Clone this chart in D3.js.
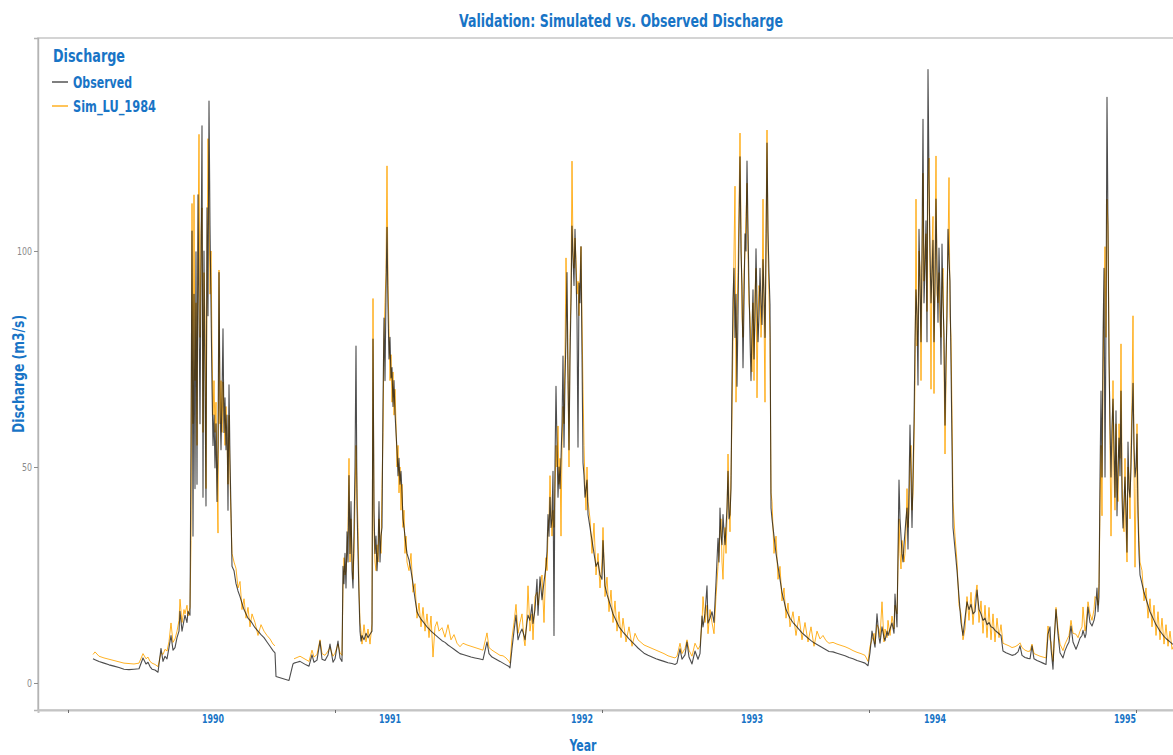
<!DOCTYPE html>
<html>
<head>
<meta charset="utf-8">
<script src="https://cdn.jsdelivr.net/npm/d3@7"></script>
<style>
  body { margin: 0; background: #fff; }
  svg text { font-family: "Liberation Sans Narrow", "DejaVu Sans Condensed", "Arial Narrow", sans-serif; }
</style>
</head>
<body>
<div id="chart"></div>
<script>
// day offsets are counted from the first record, 1 Nov 1989
const startDate = Date.UTC(1989, 10, 1);

const day = [
  // 1989-90
  0, 4, 12, 22, 32, 42, 52, 62, 72, 82, 92, 100, 106, 110, 114, 118, 124, 130, 136, 140,
  144, 148, 152, 156, 160, 164, 168, 172, 174, 178, 182, 184, 188, 190, 194,
  196, 198, 200, 202, 204, 206, 208, 210, 212, 214, 216, 218, 220, 222, 224, 226, 228, 230, 232, 234,
  236, 238, 240, 242, 244, 246, 248, 250, 252, 254, 256, 258, 260, 262, 264, 266, 268, 270, 272, 274,
  276, 278,
  282, 286, 290, 294, 298, 302, 306, 310, 314, 318, 324, 330, 336, 342, 348, 354, 360, 364,
  // 1990-91
  366, 392, 400, 402, 408, 414, 420, 426, 432, 438, 442, 448, 454, 458, 464, 470, 474, 480, 484, 490,
  494, 498,
  500, 502, 504, 506, 508, 510, 512, 514, 516, 518, 520, 522, 524, 526, 528, 530, 532, 534, 536, 538,
  542, 546, 550, 554, 558,
  560, 562, 564, 566, 568, 570, 572, 574, 576, 578, 580, 582, 584, 586, 588, 590, 592, 594, 596, 598,
  600, 602, 604, 606, 608, 610, 612, 614, 616, 618, 620, 622, 624, 626, 628,
  632, 636, 640, 644, 648, 652, 656, 660, 664, 668, 672, 676, 680, 684, 688, 692,
  698, 704, 710, 716, 722, 728, 734,
  // 1991-92
  740, 748, 756, 764, 772, 780,
  788, 792, 798, 806, 814, 820, 826, 832, 834,
  838, 842, 846, 850, 854, 858, 862, 864, 868, 870, 874, 878, 880, 884, 888, 890, 894, 898, 902, 906,
  908,
  910, 912, 914, 916, 918, 920, 922, 924, 926, 928, 930, 932, 934, 936, 938, 940, 942, 944, 946, 948,
  950, 952, 954, 956, 958, 960, 962, 964, 966, 968, 970, 972, 974, 976, 978, 980, 982, 984, 986, 988,
  990,
  994, 998, 1002, 1006, 1010, 1014, 1018, 1020,
  1024, 1028, 1032, 1036, 1040, 1044, 1048, 1052, 1056, 1060,
  1066, 1072, 1078, 1084, 1090, 1096, 1102,
  // 1992-93
  1110, 1118, 1126, 1134, 1142, 1150, 1158,
  1164, 1168, 1174, 1178, 1184, 1188, 1192, 1198, 1204, 1210, 1214,
  1218, 1220, 1224, 1228, 1230, 1234, 1238, 1242, 1246,
  1250, 1252, 1254, 1256, 1258, 1260, 1262, 1264, 1266, 1268, 1270, 1272, 1274, 1276, 1278, 1280,
  1282, 1284, 1286, 1288, 1290, 1292, 1294, 1296, 1298, 1300, 1302, 1304, 1306, 1308, 1310, 1312,
  1314, 1316, 1318, 1320, 1322, 1324, 1326, 1328, 1330, 1332, 1334, 1336, 1338, 1340, 1342, 1344,
  1346, 1348, 1350, 1352, 1354, 1356, 1358,
  1362, 1366, 1370, 1374, 1378, 1382, 1386,
  1390, 1394,
  1400, 1406, 1412, 1418, 1424, 1430, 1436, 1442, 1448, 1454, 1460, 1466, 1472,
  // 1993-94
  1480, 1488, 1496, 1504, 1512, 1520, 1528, 1536, 1544,
  1550, 1554, 1558, 1562, 1564, 1568, 1572, 1574, 1578, 1582, 1584, 1588, 1590, 1594, 1598, 1602,
  1604, 1608,
  1612, 1614, 1616, 1618, 1620, 1622, 1624, 1626, 1628, 1630, 1632, 1634, 1636, 1638, 1640, 1642,
  1644, 1646, 1648, 1650, 1652, 1654, 1656, 1658, 1660, 1662, 1664, 1666, 1668, 1670, 1672, 1674,
  1676, 1678, 1680, 1682, 1684, 1686, 1688, 1690, 1692, 1694, 1696, 1698, 1700, 1702, 1704, 1706,
  1708, 1710, 1712, 1714, 1716, 1718, 1720,
  1724, 1728, 1732, 1736, 1740,
  1744, 1748, 1752, 1756, 1760, 1764, 1768, 1772, 1776, 1780, 1784, 1788, 1792, 1796, 1800, 1804,
  1808, 1812, 1816,
  1820, 1826, 1832, 1838, 1844,
  // 1994-95
  1850, 1854, 1858, 1864, 1870, 1874, 1878, 1882, 1888, 1894, 1900, 1906,
  1910, 1914, 1916, 1920, 1922, 1926, 1930, 1934, 1940, 1944, 1948, 1952, 1956, 1960, 1966, 1970,
  1974, 1978, 1980, 1984, 1986, 1990, 1994, 1998, 2002, 2004, 2008, 2010, 2012,
  2014, 2016, 2018, 2020, 2022, 2024, 2026, 2028, 2030, 2032, 2034, 2036, 2038, 2040, 2042, 2044,
  2046, 2048, 2050, 2052, 2054, 2056, 2058, 2060, 2062, 2064, 2066, 2068, 2070, 2072, 2074, 2076,
  2078, 2080, 2082, 2084, 2086, 2088, 2090, 2092, 2094,
  2098, 2102, 2106, 2110, 2114, 2118, 2122, 2126, 2130, 2134, 2138, 2142, 2146, 2150, 2154, 2158,
  2166
];

const observed = [
  // 1989-90
  5.6, 5.4, 5.0, 4.6, 4.2, 3.9, 3.6, 3.2, 3.1, 3.2, 3.3, 5.8, 4.4, 4.8, 3.8, 3.2, 3.0, 2.5, 8.0, 5.0,
  6.2, 5.6, 8.2, 11.0, 7.6, 8.2, 10.5, 12.0, 16.6, 12.0, 14.5, 15.7, 14.0, 16.6, 15.7,
  56, 104.6, 34, 90, 45, 99.8, 46, 113, 87.5, 60, 95, 129, 43, 100, 70, 41, 110, 85, 134.7, 106,
  87.5, 68.7, 55, 62, 49.8, 60, 42, 55, 95, 64, 54, 66, 82, 58, 66, 54, 62, 40, 69, 52,
  40, 27,
  26, 23, 21.3, 20, 18.5, 17, 16, 15, 14.5, 13.9, 12.8, 12, 11.2, 10.5, 9.5, 8.5, 7.5, 7.0,
  // 1990-91
  1.5, 0.6, 4.4, 4.6, 4.8, 5.0, 4.6, 4.2, 3.9, 6.5, 4.8, 5.3, 9.7, 5.5, 5.2, 6.5, 9.0, 4.8, 5.6, 9.7,
  5.8, 5.0,
  27, 23, 30, 22, 35, 28, 48, 30, 42, 26, 22, 35, 50, 78, 41, 30, 20, 12, 9.7, 11,
  10, 11.5, 10.5, 11.3, 12,
  79.6, 40, 30, 34, 26, 30, 42, 28, 34, 36, 65, 84.5, 70, 90, 105.5, 87, 75, 80, 70.6, 73,
  64, 70, 62.5, 58, 54, 48, 52, 46, 49, 44, 38, 36, 34, 31.7, 30,
  28.5, 26, 23, 19.5, 16.5, 15.5, 14.8, 14.2, 13.6, 13, 12.5, 12, 11.6, 11.2, 10.8, 10.4,
  9.8, 9.4, 8.8, 8.3, 7.8, 7.3, 6.8,
  // 1991-92
  6.6, 6.3, 6.0, 5.8, 5.6, 5.4,
  9.5, 6.8, 6.0, 5.5, 5.0, 4.6, 4.2, 3.8, 3.5,
  8.0, 12.0, 15.7, 10.0, 11.5, 12.5, 11.0, 10.0, 14.0, 15.7, 14.5, 18.2, 13.8, 17.0, 24.0, 15.7, 24.6, 19.3, 23.4, 27.0,
  30.5,
  39, 34, 43, 36, 38, 49, 11, 51, 68.7, 55, 43, 50, 45, 52, 60, 75.7, 54.6, 70, 80, 95,
  72, 54, 75, 88, 105.8, 98.4, 92, 105, 95, 84, 54.6, 92.6, 88, 101, 76, 51, 48, 43, 45, 47,
  39,
  36, 33, 30, 27, 28, 25, 24, 33,
  22.5, 20.5, 19, 17.5, 16, 15, 14, 13, 12.4, 11.8,
  11, 10.2, 9.5, 8.8, 8.1, 7.5, 6.9,
  // 1992-93
  6.4, 6.0, 5.6, 5.3, 5.0, 4.7, 4.5,
  4.3, 4.6, 7.9, 5.5, 6.5, 9.5, 6.0, 4.4, 7.4, 5.5, 6.8,
  15.5, 13, 16, 22.5, 13.9, 15, 16.5, 14, 23.4,
  33.5, 28, 40.5, 34, 32, 39, 35, 32, 36, 40.5, 49, 38, 39, 45, 70, 89,
  96, 80, 90, 68.7, 85, 104.6, 121.8, 100, 92, 73, 88, 104, 100, 120.8, 105, 92,
  80, 70, 82, 91, 75, 85, 100.5, 88, 79, 85, 96, 88, 83, 98, 90, 80,
  100, 125, 104.6, 95, 87.5, 40.5, 38,
  34, 30, 27, 24, 21, 19, 17,
  16, 15,
  14, 13.2, 12.4, 11.6, 11, 10.4, 9.8, 9.3, 8.9, 8.5, 8.1, 7.7, 7.3,
  // 1993-94
  7.2, 6.9, 6.6, 6.3, 5.9, 5.6, 5.2, 4.9, 4.6,
  4.0, 7.0, 12, 9.5, 8.3, 16, 10.5, 9.2, 13, 10.5, 9.8, 12, 11, 12.5, 13.9, 11.5,
  20.6, 13,
  47, 38, 34, 30, 28, 32, 35, 38, 40.5, 31, 45, 59.7, 48, 36, 48, 60,
  79, 91, 85, 69, 105, 92, 79, 100, 130.5, 88, 96, 107, 79, 142, 117, 100,
  88, 95, 102.5, 79, 92, 112, 96, 83.5, 100.7, 90, 73.8, 101.6, 88, 80.5, 59.7, 75,
  85, 105, 98, 93, 74, 55, 36,
  31, 26, 20, 14, 11,
  15, 18.8, 17, 18.2, 16, 16.5, 21.5, 17, 16, 14.5, 15, 13.5, 14, 13, 12.8, 12.2,
  11.8, 11.4, 11,
  7.4, 7.0, 6.7, 6.4, 6.6,
  // 1994-95
  7.2, 8.6, 6.4, 5.9, 5.7, 5.6, 8.6, 5.6, 5.2, 4.9, 4.6, 4.3,
  11.3, 13, 8, 3.2, 9.5, 17, 11.3, 7, 5.8, 7.5, 8.6, 9.5, 13.2, 9.5, 7.8, 9,
  10.4, 11, 12.2, 10.5, 11.3, 17.6, 14, 13.2, 14.5, 15.7, 22, 16.5, 20,
  47.7, 67.6, 47.7, 79.4, 96, 47.7, 84, 135.6, 105, 74.8, 60, 47.7, 59.5, 65.7, 55, 43,
  63, 38.7, 50, 56.7, 48, 67.6, 43, 35.9, 42, 47.7, 40, 30.3, 55.8, 45, 43, 50,
  60.4, 69.4, 55, 47.7, 50, 57.6, 38.7, 30, 25,
  23, 21, 19.5, 18, 16.5, 15.5, 14.5, 13.5, 12.8, 12, 11.4, 10.8, 10.3, 9.9, 9.5, 9.1,
  8.6
];

const simulated = [
  // 1989-90
  6.6, 7.2, 6.2, 5.8, 5.5, 5.2, 4.9, 4.6, 4.5, 4.4, 4.6, 6.8, 5.6, 6.0, 5.0, 4.6, 4.3, 3.8, 7.0, 6.6,
  7.8, 7.4, 9.6, 13.9, 9.4, 10.2, 12.0, 14.5, 19.4, 14.0, 17.0, 16.0, 18.0, 15.5, 17.5,
  33, 111, 60, 113, 70, 88, 55, 100, 127, 80, 104, 110, 58, 95, 85, 45, 96, 126, 110, 90,
  100, 78, 62, 70, 58, 65, 48, 34.7, 95.6, 60, 70, 58, 69.7, 62, 55, 64, 57, 46, 62, 48,
  38, 30,
  28, 26.5, 22, 23.5, 17, 19.5, 15, 17.5, 13, 16, 14, 11, 13.5, 12, 11, 10.2, 9, 8.6,
  // 1990-91 (no simulated values during the first days of the record gap)
  null, null, null, 5.6, 5.9, 6.2, 5.8, 5.4, 5.0, 7.6, 6.0, 6.6, 10.0, 6.8, 6.4, 7.4, 8.2, 6.2, 6.9, 9.0,
  7.0, 6.4,
  22, 29, 25, 26, 30, 36, 52, 28, 38, 30, 24, 30, 42, 55, 45, 36, 22, 14, 12, 9,
  13.5, 9.5, 12.5, 9, 13.7,
  89, 35, 28, 26, 32, 28, 38, 33, 30, 45, 58, 80, 88, 95, 119.7, 92, 82, 70, 76, 65,
  72, 62, 68, 60, 50, 55, 44, 50, 40, 46, 36, 40, 30, 34, 28,
  26, 30, 21, 23, 15, 18.5, 13, 17.5, 12, 16, 10.5, 15.5, 6, 13, 14.2, 12,
  12.8, 10.6, 13.5, 10, 11.2, 9.2, 8.4,
  // 1991-92
  9.2, 8.8, 8.5, 8.2, 7.9, 7.6,
  11.6, 8.2, 7.6, 7.0, 6.4, 6.3, 5.8, 5.0, 4.6,
  10.5, 14.0, 18.2, 11.5, 14.0, 16.0, 10.0, 8.6, 16.0, 22.5, 12.0, 16.0, 10.0, 20.0, 21.0, 18.0, 22.0, 25.0, 14.0, 29.0,
  26.0,
  35, 38, 48, 40, 34, 40, 36, 45, 55, 50, 59.5, 46, 52, 34, 55, 64, 60, 76, 98.4, 85,
  70, 50, 80, 90, 120.8, 100, 96, 103, 98, 90, 93, 85, 94, 101, 84, 68, 55, 46, 40, 50,
  42,
  38, 30, 37, 25, 30, 22, 28, 36,
  20, 24.5, 16.5, 21.5, 14, 19, 12, 16.5, 10.5, 15,
  9.5, 13, 8.5, 11.5, 10, 9.4, 8.8,
  // 1992-93
  8.4, 8.0, 7.6, 7.2, 6.8, 6.3, 6.0,
  5.8, 6.2, 9.2, 6.8, 8.0, 10.0, 7.6, 6.2, 9.2, 7.8, 8.6,
  14, 20, 14, 18, 11.4, 17, 14, 11.4, 20,
  27, 30, 35, 38, 28, 24, 32, 36, 30, 38, 53, 42, 35, 48, 62, 80,
  100, 115, 65, 85, 95, 110, 127.3, 105, 85, 80, 95, 100, 108, 115.7, 100, 88,
  85, 78, 72, 88, 70, 90, 96, 66, 84, 92, 90, 80, 86, 112, 85, 65,
  104, 128, 100, 90, 80, 44, 42,
  30, 34, 24, 27, 19, 22, 15,
  18.5, 13,
  16.5, 11, 15.5, 10, 14, 9.5, 13, 8.5, 12, 10.2, 11, 9.8, 9.2,
  // 1993-94
  9.4, 9.0, 8.7, 8.4, 8.0, 7.5, 7.1, 6.8, 6.4,
  5.0, 8.5, 10, 11.5, 9, 13.5, 12.5, 10.5, 18.8, 9.5, 12.5, 10.5, 14.5, 11, 15.5, 12.5,
  18, 16,
  38, 30, 26.4, 33, 31, 28, 30, 35, 45, 36, 40, 52, 55, 40, 44, 56,
  70, 112, 78, 82, 100, 96, 70, 95, 118, 93, 100, 104, 86, 115, 121.5, 95,
  68, 100, 108, 67, 98, 122, 90, 88, 95, 84, 80, 92, 96, 75, 53, 70,
  90, 100, 117, 85, 80, 62, 42,
  34, 28, 18, 16, 10,
  12.5, 20, 14.5, 21, 13.5, 19.5, 22.7, 14, 19, 11.5, 18, 10.5, 17.5, 10, 16, 9.5,
  15, 10.5, 13.5,
  9.2, 8.9, 8.6, 8.2, 8.4,
  // 1994-95
  8.8, 9.3, 8.2, 7.6, 7.3, 7.4, 9.0, 6.8, 6.5, 6.2, 6.0, 5.8,
  13.2, 10, 9.5, 5, 8, 17.5, 12.5, 9, 7.5, 9, 10, 11, 14.5, 11.5, 11.3, 10.5,
  12, 13, 17.6, 12, 13.5, 18.8, 16, 14.5, 17, 20, 19.5, 18, 23,
  40, 55, 38.7, 70, 88, 101, 80, 112, 105.8, 80, 55, 34, 50, 70, 48, 40,
  60, 45, 42, 60, 52, 78.5, 48, 38, 35, 52, 36, 28, 50, 48, 38, 55,
  65, 85, 50, 26.8, 45, 60, 42, 33, 28,
  26, 19, 22, 15, 19.5, 13, 18, 11, 16.5, 10, 15, 9, 13.5, 8.5, 12, 7.8,
  9.8
];

const seriesNames = ["Observed", "Sim_LU_1984"];
const seriesColors = ["#111111", "#ffa500"];
const yTicks = [0, 50, 100];
const xTickDays = [-50, 484, 1018, 1552, 2086];
const yearLabels = ["1990", "1991", "1992", "1993", "1994", "1995"];
const yearLabelDays = [240, 594, 978, 1318, 1684, 2064];

(function() {
  let blue = "#1874c6";
  let width = 1173;
  let height = 755;
  let panel = { left: 38, top: 38, right: 1180, bottom: 710 };

  function toDate(d) {
    return new Date(startDate + d * 864e5);
  }

  // squeeze a label to the width it takes in the picture
  function fit(sel, len) {
    sel.attr("textLength", len).attr("lengthAdjust", "spacingAndGlyphs");
  }

  let rows = day.map((d, i) => ({ date: toDate(d), obs: observed[i], sim: simulated[i] }));

  let x = d3
    .scaleUtc()
    .domain([toDate(-110), toDate(2174)])
    .range([panel.left, panel.right]);

  let y = d3
    .scaleLinear()
    .domain([-6.25, 149.3])
    .range([panel.bottom, panel.top]);

  let svg = d3
    .select("#chart")
    .append("svg")
    .attr("width", width)
    .attr("height", height);

  svg.append("rect")
    .attr("width", width)
    .attr("height", height)
    .attr("fill", "#fff");

  svg.append("clipPath")
    .attr("id", "panel-clip")
    .append("rect")
    .attr("x", panel.left)
    .attr("y", panel.top)
    .attr("width", panel.right - panel.left)
    .attr("height", panel.bottom - panel.top);

  // panel frame
  svg.append("rect")
    .attr("x", panel.left)
    .attr("y", panel.top)
    .attr("width", panel.right - panel.left)
    .attr("height", panel.bottom - panel.top)
    .attr("fill", "none")
    .attr("stroke", "#cacaca")
    .attr("stroke-width", 1.6);

  // simulated first so the observed record sits on top of it
  let keys = ["sim", "obs"];
  let colorOf = { obs: seriesColors[0], sim: seriesColors[1] };
  let opacityOf = { obs: 0.75, sim: 0.85 };
  let widthOf = { obs: 1.1, sim: 1 };

  let gLines = svg.append("g").attr("clip-path", "url(#panel-clip)");
  keys.forEach(function(key) {
    let line = d3
      .line()
      .defined(d => d[key] != null && !isNaN(d[key]))
      .x(d => x(d.date))
      .y(d => y(d[key]));

    gLines.append("path")
      .datum(rows)
      .attr("fill", "none")
      .attr("stroke", colorOf[key])
      .attr("stroke-opacity", opacityOf[key])
      .attr("stroke-width", widthOf[key])
      .attr("stroke-linejoin", "round")
      .attr("d", line);
  });

  // y axis
  let yAxis = svg.append("g")
    .attr("transform", "translate(" + panel.left + ",0)")
    .call(d3.axisLeft(y).tickValues(yTicks).tickSize(4).tickPadding(2));
  yAxis.select(".domain")
    .attr("stroke", "#b4b4b4")
    .attr("stroke-width", 1.4);
  yAxis.selectAll(".tick line").attr("stroke", "#8c8c8c");
  yAxis.selectAll(".tick text")
    .attr("fill", "#8a8a8a")
    .style("font-size", "11px")
    .each(function(d) {
      fit(d3.select(this), String(d).length * 5);
    });

  // x axis: tick marks only, the year names sit under each season
  let xAxis = svg.append("g")
    .attr("transform", "translate(0," + panel.bottom + ")")
    .call(d3.axisBottom(x).tickValues(xTickDays.map(toDate)).tickSize(3).tickFormat(""));
  xAxis.select(".domain")
    .attr("stroke", "#c4c4c4")
    .attr("stroke-width", 2);
  xAxis.selectAll(".tick line").attr("stroke", "#6e6e6e");

  svg.append("g")
    .selectAll("text")
    .data(yearLabels)
    .join("text")
    .attr("x", (d, i) => x(toDate(yearLabelDays[i])))
    .attr("y", 723)
    .attr("text-anchor", "middle")
    .attr("fill", blue)
    .style("font-size", "13px")
    .style("font-weight", "bold")
    .text(d => d)
    .call(fit, 22);

  // titles
  svg.append("text")
    .attr("x", 621)
    .attr("y", 27)
    .attr("text-anchor", "middle")
    .attr("fill", blue)
    .style("font-size", "18px")
    .style("font-weight", "bold")
    .text("Validation: Simulated vs. Observed Discharge")
    .call(fit, 324);

  svg.append("text")
    .attr("x", 583)
    .attr("y", 751)
    .attr("text-anchor", "middle")
    .attr("fill", blue)
    .style("font-size", "15px")
    .style("font-weight", "bold")
    .text("Year")
    .call(fit, 27);

  svg.append("text")
    .attr("transform", "translate(24,374) rotate(-90)")
    .attr("text-anchor", "middle")
    .attr("fill", blue)
    .style("font-size", "16px")
    .style("font-weight", "bold")
    .text("Discharge (m3/s)")
    .call(fit, 118);

  // legend
  let legend = svg.append("g");
  legend.append("text")
    .attr("x", 53)
    .attr("y", 62)
    .attr("fill", blue)
    .style("font-size", "18px")
    .style("font-weight", "bold")
    .text("Discharge")
    .call(fit, 72);

  let legendWidths = [59, 83];
  let item = legend.selectAll("g.item")
    .data(seriesNames)
    .join("g")
    .attr("class", "item")
    .attr("transform", (d, i) => "translate(0," + (82 + i * 24) + ")");

  item.append("line")
    .attr("x1", 52)
    .attr("x2", 68)
    .attr("stroke", (d, i) => i == 0 ? "#3a3a3a" : seriesColors[1])
    .attr("stroke-width", 1.3);

  item.append("text")
    .attr("x", 73)
    .attr("y", 5.5)
    .attr("fill", blue)
    .style("font-size", "15px")
    .style("font-weight", "bold")
    .text(d => d)
    .attr("textLength", (d, i) => legendWidths[i])
    .attr("lengthAdjust", "spacingAndGlyphs");
})();
</script>
</body>
</html>
